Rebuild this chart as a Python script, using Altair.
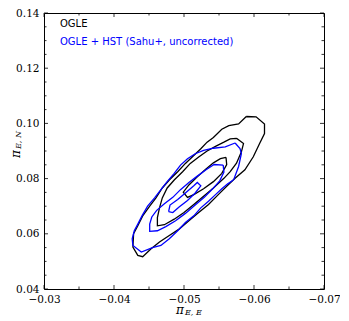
import altair as alt
import pandas as pd

# ---- contour polygons (data units) ----
ogle_3s_x = [-0.0589, -0.0603, -0.0615, -0.0615, -0.0608, -0.0599, -0.0587, -0.0573, -0.0561, -0.0549,
             -0.0535, -0.0521, -0.0507, -0.0493, -0.0479, -0.0465, -0.0453, -0.0441, -0.0434, -0.0427,
             -0.0428, -0.0434, -0.0441, -0.0451, -0.0460, -0.0469, -0.0479, -0.0491, -0.0502, -0.0514,
             -0.0524, -0.0533, -0.0542, -0.0554, -0.0564, -0.0578]
ogle_3s_y = [0.1025, 0.1024, 0.0998, 0.0963, 0.0927, 0.0879, 0.0832, 0.0801, 0.0772, 0.0742,
             0.0706, 0.0677, 0.0647, 0.0617, 0.0594, 0.0570, 0.0546, 0.0517, 0.0522, 0.0552,
             0.0600, 0.0629, 0.0665, 0.0700, 0.0730, 0.0766, 0.0795, 0.0825, 0.0855, 0.0884,
             0.0908, 0.0932, 0.0949, 0.0979, 0.0992, 0.0998]

ogle_2s_x = [-0.0575, -0.0585, -0.0582, -0.0575, -0.0566, -0.0557, -0.0542, -0.0528, -0.0514, -0.0500,
             -0.0486, -0.0472, -0.0462, -0.0462, -0.0465, -0.0469, -0.0476, -0.0486, -0.0498, -0.0509,
             -0.0521, -0.0533, -0.0545, -0.0557, -0.0566]
ogle_2s_y = [0.0946, 0.0927, 0.0897, 0.0856, 0.0825, 0.0801, 0.0766, 0.0736, 0.0706, 0.0677,
             0.0653, 0.0633, 0.0629, 0.0659, 0.0694, 0.0730, 0.0766, 0.0795, 0.0825, 0.0855,
             0.0878, 0.0900, 0.0917, 0.0932, 0.0944]

ogle_1s_x = [-0.0560, -0.0561, -0.0554, -0.0542, -0.0528, -0.0514, -0.0505, -0.0499, -0.0507, -0.0519,
             -0.0531, -0.0542, -0.0552]
ogle_1s_y = [0.0877, 0.0851, 0.0819, 0.0789, 0.0763, 0.0742, 0.0732, 0.0751, 0.0777, 0.0807,
             0.0834, 0.0857, 0.0872]

hst_3s_x = [-0.0573, -0.0580, -0.0582, -0.0578, -0.0571, -0.0562, -0.0554, -0.0545, -0.0535, -0.0524,
            -0.0514, -0.0502, -0.0491, -0.0479, -0.0467, -0.0455, -0.0439, -0.0427, -0.0426, -0.0429,
            -0.0434, -0.0440, -0.0448, -0.0458, -0.0467, -0.0476, -0.0486, -0.0495, -0.0505, -0.0516,
            -0.0528, -0.0542, -0.0559]
hst_3s_y = [0.0929, 0.0909, 0.0891, 0.0844, 0.0796, 0.0780, 0.0763, 0.0742, 0.0718, 0.0694,
            0.0665, 0.0641, 0.0611, 0.0582, 0.0558, 0.0550, 0.0534, 0.0558, 0.0582, 0.0611,
            0.0635, 0.0665, 0.0700, 0.0730, 0.0760, 0.0789, 0.0819, 0.0849, 0.0872, 0.0890,
            0.0902, 0.0910, 0.0915]

hst_2s_x = [-0.0556, -0.0557, -0.0551, -0.0541, -0.0529, -0.0516, -0.0502, -0.0488, -0.0474, -0.0462,
            -0.0451, -0.0451, -0.0454, -0.0461, -0.0472, -0.0484, -0.0495, -0.0507, -0.0519, -0.0531,
            -0.0543]
hst_2s_y = [0.0849, 0.0823, 0.0792, 0.0763, 0.0732, 0.0704, 0.0674, 0.0647, 0.0626, 0.0611,
            0.0609, 0.0635, 0.0661, 0.0685, 0.0709, 0.0732, 0.0760, 0.0786, 0.0809, 0.0831,
            0.0851]

hst_1s_x = [-0.0478, -0.0480, -0.0491, -0.0502, -0.0514, -0.0519, -0.0524, -0.0516, -0.0505, -0.0493,
            -0.0484]
hst_1s_y = [0.0680, 0.0704, 0.0724, 0.0748, 0.0774, 0.0786, 0.0774, 0.0748, 0.0721, 0.0697,
            0.0677]

# ---- axis ticks ----
x_major = [-0.03, -0.04, -0.05, -0.06, -0.07]
x_minor = [-0.035, -0.045, -0.055, -0.065]
y_major = [0.04, 0.06, 0.08, 0.10, 0.12, 0.14]
y_minor = [0.045, 0.05, 0.055, 0.065, 0.07, 0.075, 0.085, 0.09, 0.095,
           0.105, 0.11, 0.115, 0.125, 0.13, 0.135]

legend_labels = ["OGLE", "OGLE + HST (Sahu+,  uncorrected)"]

W, H = 280, 276
SERIF = "DejaVu Serif"
SANS = "DejaVu Sans"


def contour_frame(series, pieces):
    rows = []
    for cid, (xs, ys) in pieces.items():
        pts = list(zip(xs, ys)) + [(xs[0], ys[0])]
        for i, (x, y) in enumerate(pts):
            rows.append({"series": series, "cid": cid, "i": i, "x": x, "y": y})
    return pd.DataFrame(rows)


ogle_df = contour_frame("OGLE", {"o3": (ogle_3s_x, ogle_3s_y),
                                 "o2": (ogle_2s_x, ogle_2s_y),
                                 "o1": (ogle_1s_x, ogle_1s_y)})
hst_df = contour_frame("HST", {"h3": (hst_3s_x, hst_3s_y),
                               "h2": (hst_2s_x, hst_2s_y),
                               "h1": (hst_1s_x, hst_1s_y)})

xscale = alt.Scale(domain=[-0.07, -0.03], reverse=True, nice=False, zero=False)
yscale = alt.Scale(domain=[0.04, 0.14], nice=False, zero=False)

xaxis = alt.Axis(values=x_major, format=".2f", tickSize=0, domain=False, grid=False,
                 labelFont=SERIF, labelFontSize=10.5, labelColor="black", labelPadding=5,
                 labelFlush=False, labelOverlap=False, title=None)
yaxis = alt.Axis(values=y_major, format=".2f", tickSize=0, domain=False, grid=False,
                 labelFont=SERIF, labelFontSize=10.5, labelColor="black", labelPadding=5,
                 labelFlush=False, labelOverlap=False, title=None)

X = lambda f: alt.X(f, scale=xscale, axis=xaxis)
Y = lambda f: alt.Y(f, scale=yscale, axis=yaxis)

black = alt.Chart(ogle_df).mark_line(color="black", strokeWidth=1.3).encode(
    x=X("x:Q"), y=Y("y:Q"), detail="cid:N", order="i:Q")
blue = alt.Chart(hst_df).mark_line(color="#0000ff", strokeWidth=1.3).encode(
    x=X("x:Q"), y=Y("y:Q"), detail="cid:N", order="i:Q")


def xticks(vals, length, top):
    df = pd.DataFrame({"x": vals})
    y0, y1 = (0, length) if top else (H, H - length)
    return alt.Chart(df).mark_rule(color="black", strokeWidth=0.8).encode(
        x=X("x:Q"), y=alt.value(y0), y2=alt.value(y1))


def yticks(vals, length, right):
    df = pd.DataFrame({"y": vals})
    x0, x1 = (W, W - length) if right else (0, length)
    return alt.Chart(df).mark_rule(color="black", strokeWidth=0.8).encode(
        y=Y("y:Q"), x=alt.value(x0), x2=alt.value(x1))


ticks = [xticks(x_major, 4, False), xticks(x_major, 4, True),
         xticks(x_minor, 2.5, False), xticks(x_minor, 2.5, True),
         yticks(y_major, 4, False), yticks(y_major, 4, True),
         yticks(y_minor, 2.5, False), yticks(y_minor, 2.5, True)]


def label(text, x, y, color="black", size=10, font=SANS, style="normal", angle=0):
    df = pd.DataFrame({"t": [text]})
    return alt.Chart(df).mark_text(align="left", baseline="middle", color=color, fontSize=size,
                                   font=font, fontStyle=style, angle=angle).encode(
        text="t:N", x=alt.value(x), y=alt.value(y))


texts = [
    label(legend_labels[0], 16, 11),
    label(legend_labels[1], 16, 29, color="#0000ff"),
    # x title  pi_{E,E}
    label("π", 132, 297, size=12, font=SERIF, style="italic"),
    label("E, E", 141, 300, size=8, font=SERIF, style="italic"),
    # y title  pi_{E,N}
    label("π", -28, 145, size=12, font=SERIF, style="italic", angle=270),
    label("E, N", -25, 136, size=8, font=SERIF, style="italic", angle=270),
]

chart = alt.layer(black, blue, *ticks, *texts).properties(
    width=W, height=H,
    background="white",
    autosize=alt.AutoSizeParams(type="none"),
    padding={"left": 36, "top": 5, "right": 16, "bottom": 28},
).configure_view(stroke="black", strokeWidth=1)

chart.save("out.html", embed_options={"renderer": "svg", "actions": False})
